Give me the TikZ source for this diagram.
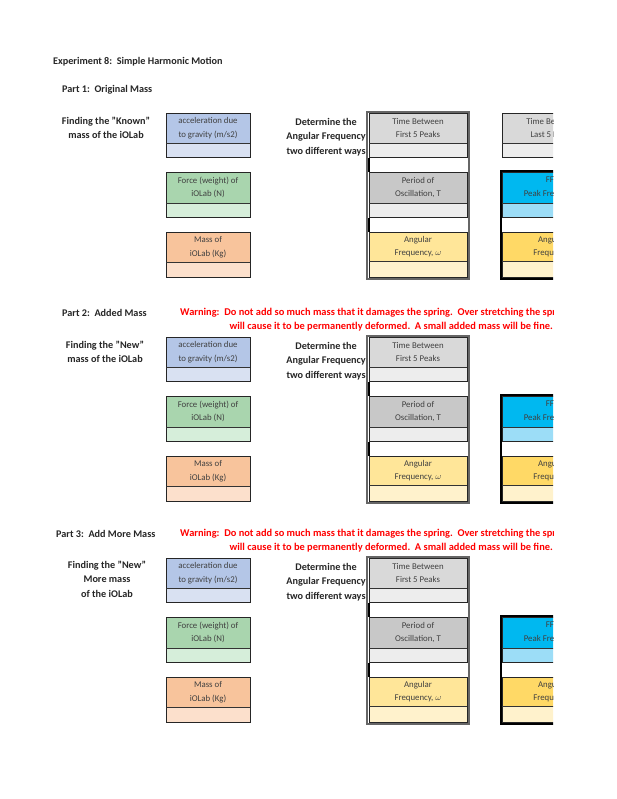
\documentclass[tikz,border=0pt]{standalone}
\usepackage{fontspec}
\setmainfont{Carlito}
\definecolor{bH}{HTML}{B4C6E7}\definecolor{bL}{HTML}{D9E1F2}
\definecolor{gH}{HTML}{A9D5AE}\definecolor{gL}{HTML}{D6EEDA}
\definecolor{oH}{HTML}{F8C49C}\definecolor{oL}{HTML}{FCE0CC}
\definecolor{tH}{HTML}{D9D9D9}\definecolor{tL}{HTML}{EDEDED}
\definecolor{pH}{HTML}{C8C8C8}
\definecolor{yH}{HTML}{FFE699}\definecolor{yL}{HTML}{FFF2CC}
\definecolor{y2}{HTML}{FFD966}
\definecolor{cH}{HTML}{00B8F0}\definecolor{cL}{HTML}{9CDDF7}
\definecolor{warn}{HTML}{FF0000}
\tikzset{cellA/.style={draw=black!85,line width=0.9pt},
 boxtxt/.style={font=\fontsize{8.8}{13.5}\selectfont,text=black!75,align=center},
 lbl/.style={font=\fontsize{10.2}{14.5}\selectfont\bfseries,align=center,text=black!85,inner sep=0pt},
 ttl/.style={font=\fontsize{10.2}{12}\selectfont\bfseries,text=black!85,anchor=west,inner sep=0pt},
 wtxt/.style={font=\fontsize{10.4}{14}\selectfont\bfseries,text=warn,inner sep=0pt}}
\newcommand{\cellbox}[8]{% x1 y1 x2 ymid y2 fillH fillL text
 \fill[#6] (#1,#2) rectangle (#3,#4);
 \fill[#7] (#1,#4) rectangle (#3,#5);
 \draw[cellA] (#1,#2) rectangle (#3,#5);
 \draw[black!80,line width=0.5pt] (#1,#4) -- (#3,#4);
 \node[boxtxt] at ({(#1+#3)/2},{(#2+#4)/2}) {#8};}
\begin{document}
\begin{tikzpicture}[x=1pt,y=-1pt]
\useasboundingbox (0,0) rectangle (617,799);
\fill[white] (0,0) rectangle (617,799);
\node[ttl] (title) at (53,62) {Experiment 8:\ \ Simple Harmonic Motion};
\node[ttl] (p1) at (62,90) {Part 1:\ \ Original Mass};
\node[ttl] (p2) at (62,313) {Part 2:\ \ Added Mass};
\node[ttl] (p3) at (56,534) {Part 3:\ \ Add More Mass};
\node[lbl] (l1) at (106,128) {Finding the "Known"\\mass of the iOLab};
\node[lbl] (l2) at (105,352) {Finding the "New"\\mass of the iOLab};
\node[lbl] (l3) at (107,579) {Finding the "New"\\More mass\\of the iOLab};
\begin{scope}
\clip (0,0) rectangle (553,799);
\foreach \o in {224,445}{
 \node[wtxt,anchor=west] (w1\o) at (180,{\o+89}) {Warning:\ \ Do not add so much mass that it damages the spring.\ \ Over stretching the spring};
 \node[wtxt,anchor=east] (w2\o) at (553,{\o+103}) {will cause it to be permanently deformed.\ \ A small added mass will be fine.};
}
\foreach \o [count=\i] in {0,224,445}{
 \begin{scope}[yshift=-\o pt]
 \cellbox{166}{113}{250}{143}{157}{bH}{bL}{acceleration due\\to gravity (m/s2)}
 \cellbox{166}{172}{250}{203}{217}{gH}{gL}{Force (weight) of\\iOLab (N)}
 \cellbox{166}{232}{250}{262}{277}{oH}{oL}{Mass of\\iOLab (Kg)}
 \node[lbl,anchor=east] (d\i) at (366,137) {Determine the\\Angular Frequency\\two different ways};
 \fill[white] (368,113) rectangle (468,278);
 \cellbox{369}{113}{467}{143}{157}{tH}{tL}{Time Between\\First 5 Peaks}
 \cellbox{369}{172}{467}{203}{217}{pH}{tL}{Period of\\Oscillation, T}
 \cellbox{369}{232}{467}{261}{277}{yH}{yL}{Angular\\Frequency, $\omega$}
 \draw[black!60,line width=2pt] (367,112) rectangle (469,279);
 \draw[black,line width=2pt] (369,158) -- (369,172) (369,218) -- (369,232);
 \ifnum\i=1
  \cellbox{502}{113}{602}{143}{157}{tH}{tL}{Time Between\\Last 5 Peaks}
 \fi
 \cellbox{502}{172}{602}{203}{217}{cH}{cL}{FFT\\Peak Frequency}
 \cellbox{502}{232}{602}{261}{277}{y2}{yL}{Angular\\Frequency}
 \draw[black,line width=2pt] (501,171) rectangle (610,279);
 \end{scope}
}
\end{scope}
\end{tikzpicture}
\end{document}
